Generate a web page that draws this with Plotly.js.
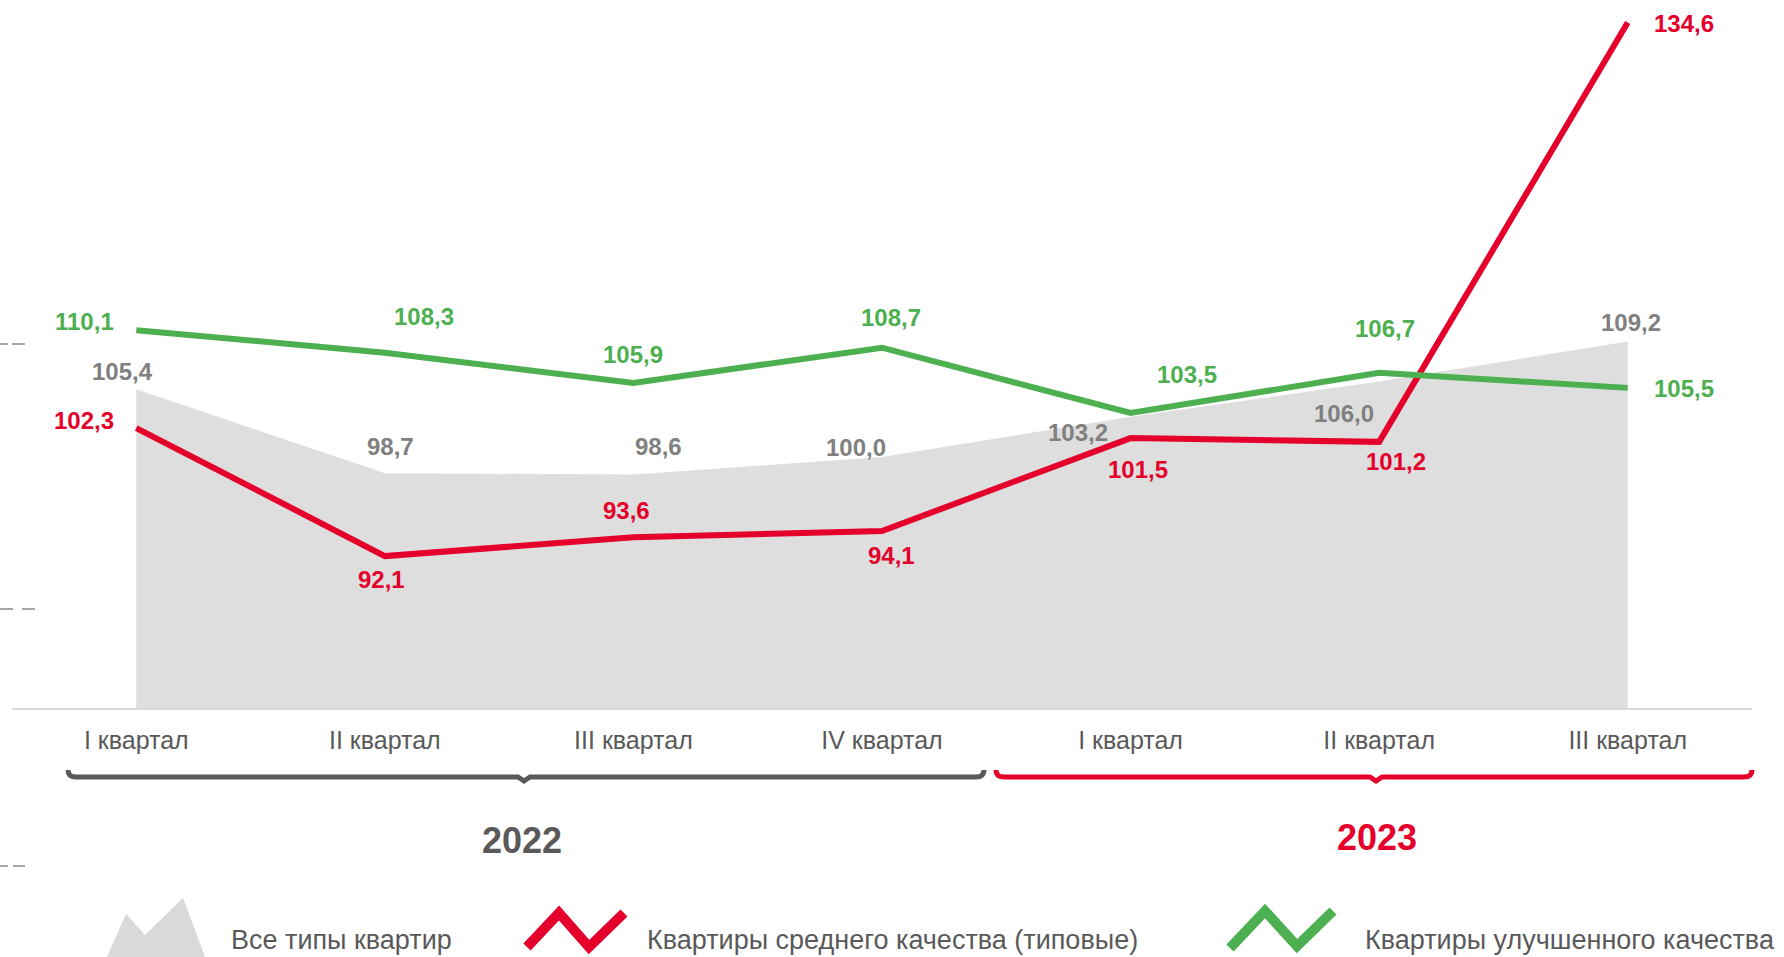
<!DOCTYPE html>
<html>
<head>
<meta charset="utf-8">
<script src="https://cdn.plot.ly/plotly-3.0.1.min.js"></script>
<style>html,body{margin:0;padding:0;background:#fff;}#chart{width:1784px;height:957px;}</style>
</head>
<body>
<div id="chart"></div>
<script>
// ---- data ----
const quarters = ["I квартал","II квартал","III квартал","IV квартал","I квартал","II квартал","III квартал"];
const allTypes = [105.4, 98.7, 98.6, 100.0, 103.2, 106.0, 109.2];
const midQuality = [102.3, 92.1, 93.6, 94.1, 101.5, 101.2, 134.6];
const highQuality = [110.1, 108.3, 105.9, 108.7, 103.5, 106.7, 105.5];
const years = ["2022", "2023"];
const seriesNames = ["Все типы квартир", "Квартиры среднего качества (типовые)", "Квартиры улучшенного качества"];

// ---- styling ----
const RED = "#e4002b", GREEN = "#4caf50", GRAY = "#808080", DARK = "#595959", FILL = "#dedede";
const NARROW = "Liberation Sans, Arial, sans-serif";
const BOLD = "Liberation Sans, Arial, sans-serif";
const W = 1784, H = 957, ML = 12, MR = 32, MT = 5, MB = 249;
const PW = W - ML - MR, PH = H - MT - MB;
const px = v => (v - ML) / PW;
const py = v => (H - MB - v) / PH;
const xs = quarters.map((_, i) => i);

const fmt = v => v.toFixed(1).replace(".", ",");

// label offsets in pixels (dx, dy downwards)
const offGreen = [[-52,-9],[39,-36],[0,-28],[9,-30],[56,-38],[6,-44],[56,1]];
const offRed = [[-52,-8],[-3,23],[-7,-27],[9,25],[7,31],[17,20],[56,1]];
const offGray = [[-14,-18],[6,-27],[25,-28],[-26,-9],[-53,16],[-35,32],[3,-19]];

const traces = [
  {x: xs, y: allTypes, type: "scatter", mode: "lines", fill: "tozeroy", fillcolor: FILL,
   line: {width: 0, color: FILL}, name: seriesNames[0], hoverinfo: "skip"},
  {x: xs, y: midQuality, type: "scatter", mode: "lines", line: {width: 6, color: RED}, name: seriesNames[1]},
  {x: xs, y: highQuality, type: "scatter", mode: "lines", line: {width: 6, color: GREEN}, name: seriesNames[2]}
];

const annotations = [];
function addLabels(vals, offs, color) {
  vals.forEach((v, i) => annotations.push({
    x: xs[i], y: v, xref: "x", yref: "y", text: "<b>" + fmt(v) + "</b>", showarrow: false,
    xanchor: "center", yanchor: "middle",
    xshift: offs[i][0], yshift: -offs[i][1], font: {family: BOLD, size: 24, color: color}
  }));
}
addLabels(allTypes, offGray, GRAY);
addLabels(midQuality, offRed, RED);
addLabels(highQuality, offGreen, GREEN);

// year labels
annotations.push({x: px(522), y: py(840), xref: "paper", yref: "paper", xanchor: "center", yanchor: "middle",
  text: "<b>" + years[0] + "</b>", showarrow: false, font: {family: BOLD, size: 36, color: DARK}});
annotations.push({x: px(1377), y: py(837), xref: "paper", yref: "paper", xanchor: "center", yanchor: "middle",
  text: "<b>" + years[1] + "</b>", showarrow: false, font: {family: BOLD, size: 36, color: RED}});

// legend texts
[[229, seriesNames[0]], [645, seriesNames[1]], [1363, seriesNames[2]]].forEach(([lx, t]) => {
  annotations.push({x: px(lx), y: py(940), xref: "paper", yref: "paper", xanchor: "left", yanchor: "middle",
    text: t, showarrow: false, font: {family: NARROW, size: 27, color: DARK}});
});

const shapes = [];
// left-edge dashes
[[344, [[0,8],[12,25]]], [609, [[0,13],[22,35]]], [866, [[0,8],[13,25]]]].forEach(([yy, segs]) => {
  segs.forEach(([a, b]) => shapes.push({type: "line", xref: "paper", yref: "paper",
    x0: px(a), x1: px(b), y0: py(yy), y1: py(yy), line: {color: "#a6a6a6", width: 2}}));
});

function pt(x, y) { return px(x) + "," + py(y); }
function brace(x0, x1, xm, y, color) {
  const d = "M" + pt(x0, y - 7) + " Q" + pt(x0, y) + " " + pt(x0 + 8, y) +
    " L" + pt(xm - 6, y) + " L" + pt(xm, y + 4) + " L" + pt(xm + 6, y) +
    " L" + pt(x1 - 8, y) + " Q" + pt(x1, y) + " " + pt(x1, y - 7);
  shapes.push({type: "path", xref: "paper", yref: "paper", path: d, line: {color: color, width: 5}});
}
brace(68, 984, 524, 777, DARK);
brace(996, 1752, 1376, 777, RED);

// legend icons
shapes.push({type: "path", xref: "paper", yref: "paper",
  path: "M" + pt(107, 957) + " L" + pt(126, 914) + " L" + pt(145, 935) + " L" + pt(183, 898) + " L" + pt(205, 957) + " Z",
  fillcolor: "#d9d9d9", line: {width: 0}});
shapes.push({type: "path", xref: "paper", yref: "paper",
  path: "M" + pt(527, 947) + " L" + pt(559, 913) + " L" + pt(589, 947) + " L" + pt(624, 913),
  line: {color: RED, width: 10}});
shapes.push({type: "path", xref: "paper", yref: "paper",
  path: "M" + pt(1230, 948) + " L" + pt(1265, 911) + " L" + pt(1297, 946) + " L" + pt(1333, 911),
  line: {color: GREEN, width: 10}});

const layout = {
  width: W, height: H,
  margin: {l: ML, r: MR, t: MT, b: MB, pad: 0},
  paper_bgcolor: "#fff", plot_bgcolor: "#fff",
  showlegend: false,
  xaxis: {range: [-0.5, 6.5], tickmode: "array", tickvals: xs, ticktext: quarters,
    showgrid: false, zeroline: false, showline: true, linecolor: "#d9d9d9", linewidth: 2,
    ticks: "", ticklabelstandoff: 9, tickfont: {family: NARROW, size: 25, color: DARK}, fixedrange: true},
  yaxis: {range: [80, 136], visible: false, showgrid: false, zeroline: false, fixedrange: true},
  annotations: annotations,
  shapes: shapes
};

Plotly.newPlot("chart", traces, layout, {displayModeBar: false, staticPlot: true});
</script>
</body>
</html>
